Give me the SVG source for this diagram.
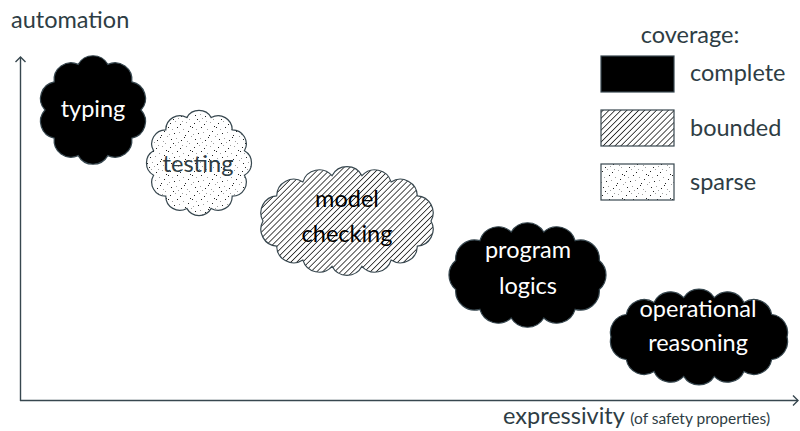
<svg xmlns="http://www.w3.org/2000/svg" width="800" height="431" viewBox="0 0 800 431">
<style>
text{font-family:Lato,"Noto Sans","DejaVu Sans",sans-serif;font-size:23.5px;fill:#2e3d44}
.w{fill:#ffffff;text-anchor:middle}
.b{fill:#000000;text-anchor:middle}
.d{text-anchor:middle}
.cloud{stroke:#37474f;stroke-width:1.2}
.solid{fill:#000000}
.hatch{fill:url(#hatch)}
.dots{fill:url(#dots)}
.axis{stroke:#37474f;stroke-width:1.4;fill:none}
</style>
<defs>
<pattern id="hatch" patternUnits="userSpaceOnUse" width="4.2" height="4.2" patternTransform="rotate(45)">
<rect width="4.2" height="4.2" fill="#ffffff"/>
<line x1="0" y1="0" x2="0" y2="4.2" stroke="#000000" stroke-width="1.4"/>
</pattern>
<pattern id="dots" patternUnits="userSpaceOnUse" width="24" height="24">
<rect width="24" height="24" fill="#ffffff"/>
<g fill="#222222">
<rect x="2" y="3" width="1" height="1"/><rect x="12" y="4" width="1" height="1"/><rect x="22" y="6" width="1" height="1"/><rect x="9" y="7" width="1" height="1"/><rect x="20" y="11" width="1" height="1"/><rect x="6" y="13" width="1" height="1"/><rect x="17" y="15" width="1" height="1"/><rect x="3" y="19" width="1" height="1"/><rect x="13" y="20" width="1" height="1"/><rect x="5" y="23" width="1" height="1"/><rect x="16" y="17" width="1" height="1"/><rect x="0" y="7" width="1" height="1"/>
</g>
<g fill="#a0a0a0">
<rect x="7" y="1" width="1" height="1"/><rect x="18" y="2" width="1" height="1"/><rect x="4" y="9" width="1" height="1"/><rect x="15" y="9" width="1" height="1"/><rect x="1" y="14" width="1" height="1"/><rect x="11" y="12" width="1" height="1"/><rect x="23" y="16" width="1" height="1"/><rect x="8" y="18" width="1" height="1"/><rect x="19" y="21" width="1" height="1"/><rect x="10" y="22" width="1" height="1"/><rect x="21" y="23" width="1" height="1"/><rect x="14" y="1" width="1" height="1"/>
</g>
</pattern>
</defs>

<g id="axes">
<path class="axis" d="M20.5,401 V57"/>
<path class="axis" d="M15.5,62 L20.5,57 L25.5,62"/>
<path class="axis" d="M20,400.5 H798"/>
<path class="axis" d="M793,395.5 L798,400.5 L793,405.5"/>
</g>
<text x="11" y="28">automation</text>
<text x="503" y="424">expressivity <tspan font-size="15.5">(of safety properties)</tspan></text>

<g id="typing">
<path class="cloud solid" d="M141,110 A17,17 0 0 1 131.8,138.2 A17,17 0 0 1 107.8,155.6 A17,17 0 0 1 78.2,155.6 A17,17 0 0 1 54.2,138.2 A17,17 0 0 1 45,110 A17,17 0 0 1 54.2,81.8 A17,17 0 0 1 78.2,64.4 A17,17 0 0 1 107.8,64.4 A17,17 0 0 1 131.8,81.8 A17,17 0 0 1 141,110 Z"/>
<text class="w" x="93" y="117">typing</text>
</g>

<g id="testing">
<path class="cloud dots" d="M244.4,175.2 A14,14 0 0 1 232.2,196.2 A14,14 0 0 1 211.2,208.4 A14,14 0 0 1 186.8,208.4 A14,14 0 0 1 165.8,196.2 A14,14 0 0 1 153.6,175.2 A14,14 0 0 1 153.6,150.8 A14,14 0 0 1 165.8,129.8 A14,14 0 0 1 186.8,117.6 A14,14 0 0 1 211.2,117.6 A14,14 0 0 1 232.2,129.8 A14,14 0 0 1 244.4,150.8 A14,14 0 0 1 244.4,175.2 Z"/>
<text class="d" x="198" y="172">testing</text>
</g>

<g id="model-checking">
<path class="cloud hatch" d="M431,221 A17,17 0 0 1 417.3,246.2 A17,17 0 0 1 391.1,260.1 A17,17 0 0 1 362,266.3 A17,17 0 0 1 332,266.3 A17,17 0 0 1 302.9,260.1 A17,17 0 0 1 276.7,246.2 A17,17 0 0 1 263,221 A17,17 0 0 1 276.7,195.8 A17,17 0 0 1 302.9,181.9 A17,17 0 0 1 332,175.7 A17,17 0 0 1 362,175.7 A17,17 0 0 1 391.1,181.9 A17,17 0 0 1 417.3,195.8 A17,17 0 0 1 431,221 Z"/>
<text class="b" x="347" y="207">model</text>
<text class="b" x="347" y="242">checking</text>
</g>

<g id="program-logics">
<path class="cloud solid" d="M599.3,289.5 A19,19 0 0 1 575.1,309.3 A19,19 0 0 1 543.8,318 A19,19 0 0 1 511.2,318 A19,19 0 0 1 479.9,309.3 A19,19 0 0 1 455.7,289.5 A19,19 0 0 1 455.7,260.5 A19,19 0 0 1 479.9,240.7 A19,19 0 0 1 511.2,232 A19,19 0 0 1 543.8,232 A19,19 0 0 1 575.1,240.7 A19,19 0 0 1 599.3,260.5 A19,19 0 0 1 599.3,289.5 Z"/>
<text class="w" x="528" y="258">program</text>
<text class="w" x="528" y="294">logics</text>
</g>

<g id="operational-reasoning">
<path class="cloud solid" d="M787,337 A18,18 0 0 1 771.7,359.5 A18,18 0 0 1 744,371.4 A18,18 0 0 1 714.3,376.4 A18,18 0 0 1 683.7,376.4 A18,18 0 0 1 654,371.4 A18,18 0 0 1 626.3,359.5 A18,18 0 0 1 611,337 A18,18 0 0 1 626.3,314.5 A18,18 0 0 1 654,302.6 A18,18 0 0 1 683.7,297.6 A18,18 0 0 1 714.3,297.6 A18,18 0 0 1 744,302.6 A18,18 0 0 1 771.7,314.5 A18,18 0 0 1 787,337 Z"/>
<text class="w" x="698" y="317">operational</text>
<text class="w" x="698" y="351">reasoning</text>
</g>

<g id="legend">
<text class="d" x="690" y="43">coverage:</text>
<rect class="cloud solid" x="601" y="56" width="73" height="36"/>
<rect class="cloud hatch" x="601" y="110" width="73" height="36"/>
<rect class="cloud dots" x="601" y="164" width="73" height="36"/>
<text x="690" y="81">complete</text>
<text x="690" y="136">bounded</text>
<text x="690" y="190">sparse</text>
</g>
</svg>
